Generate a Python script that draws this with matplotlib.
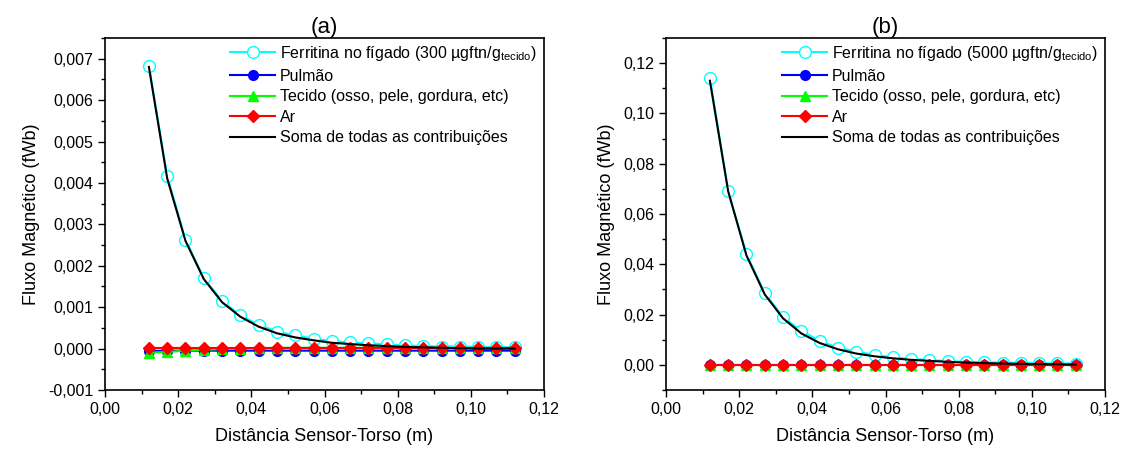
import matplotlib
matplotlib.use("Agg")
import matplotlib.pyplot as plt
from matplotlib.ticker import MultipleLocator, FuncFormatter

plt.rcParams['font.family'] = ['Liberation Sans', 'DejaVu Sans']
plt.rcParams['mathtext.fontset'] = 'custom'
plt.rcParams['mathtext.rm'] = 'Liberation Sans'
plt.rcParams['mathtext.it'] = 'Liberation Sans:italic'

# distancias sensor-torso (m)
dist = [0.012, 0.017, 0.022, 0.027, 0.032, 0.037, 0.042, 0.047, 0.052, 0.057, 0.062,
        0.067, 0.072, 0.077, 0.082, 0.087, 0.092, 0.097, 0.102, 0.107, 0.112]

# (a) 300 ugftn/g
ferr_a = [0.00683, 0.00417, 0.00263, 0.00170, 0.00115, 0.00080, 0.00058, 0.00041, 0.00032,
          0.00024, 0.00018, 0.00015, 0.00013, 0.00010, 0.00008, 0.00006, 0.00005, 0.00005,
          0.00004, 0.00004, 0.00003]
pulm_a = [-0.00006, -0.00005, -0.00005, -0.00005, -0.00005, -0.00005, -0.00005, -0.00005,
          -0.00005, -0.00005, -0.00005, -0.00005, -0.00005, -0.00005, -0.00005, -0.00005,
          -0.00005, -0.00005, -0.00005, -0.00005, -0.00005]
tec_a = [-0.00010, -0.00008, -0.00005, -0.00003, -0.00001, 0.00000, 0.00001, 0.00002, 0.00002,
         0.00002, 0.00002, 0.00002, 0.00002, 0.00002, 0.00001, 0.00001, 0.00001, 0.00001,
         0.00001, 0.00001, 0.00001]
ar_a = [0.00001] * 21
soma_a = [0.00680, 0.00411, 0.00260, 0.00168, 0.00112, 0.00077, 0.00053, 0.00037, 0.00027,
          0.00020, 0.00014, 0.00011, 0.00008, 0.00006, 0.00004, 0.00003, 0.00002, 0.00001,
          0.00000, 0.00000, 0.00000]

# (b) 5000 ugftn/g
ferr_b = [0.1140, 0.0690, 0.0440, 0.0285, 0.0190, 0.0135, 0.0096, 0.0068, 0.0053, 0.0040,
          0.0030, 0.0024, 0.0019, 0.0015, 0.0012, 0.0010, 0.0009, 0.0008, 0.0007, 0.0006,
          0.0005]
pulm_b = [0.0000] * 21
tec_b = [0.0000] * 21
ar_b = [0.0000] * 21
soma_b = [0.1130, 0.0690, 0.0435, 0.0280, 0.0185, 0.0125, 0.0087, 0.0062, 0.0045, 0.0034,
          0.0026, 0.0020, 0.0016, 0.0012, 0.0009, 0.0007, 0.0005, 0.0004, 0.0003, 0.0002,
          0.0001]

paineis = [
    ("(a)", "300", ferr_a, pulm_a, tec_a, ar_a, soma_a, (-0.001, 0.0075), 0.001, 0.0005, 3),
    ("(b)", "5000", ferr_b, pulm_b, tec_b, ar_b, soma_b, (-0.01, 0.13), 0.02, 0.01, 2),
]


def fmt_virgula(casas):
    def f(v, pos):
        txt = f"{v:.{casas}f}".replace(".", ",")
        if txt.startswith("-") and float(txt[1:].replace(",", ".")) == 0:
            txt = txt[1:]
        return txt
    return FuncFormatter(f)


fig = plt.figure(figsize=(11.33, 4.5), dpi=100)
posicoes = [[105 / 1133, 60 / 450, 439 / 1133, 352 / 450],
            [666 / 1133, 60 / 450, 439 / 1133, 352 / 450]]

for pos, (titulo, conc, ferr, pulm, tec, ar, soma, ylim, ymaj, ymin, casas) in zip(posicoes, paineis):
    ax = fig.add_axes(pos)
    ax.plot(dist, ferr, color="cyan", lw=1.5, marker="o", ms=8.5, mfc="white", mec="cyan",
            mew=1.0, label="Ferritina no fígado (" + conc + r" µgftn/g$_{\mathrm{tecido}}$)")
    ax.plot(dist, pulm, color="blue", lw=1.5, marker="o", ms=7, mfc="blue", mec="blue",
            label="Pulmão")
    ax.plot(dist, tec, color="#00ff00", lw=1.5, marker="^", ms=7, mfc="#00ff00", mec="#00ff00",
            label="Tecido (osso, pele, gordura, etc)")
    ax.plot(dist, ar, color="red", lw=1.5, marker="D", ms=6.5, mfc="red", mec="red",
            label="Ar")
    ax.plot(dist, soma, color="black", lw=1.5, label="Soma de todas as contribuições")

    ax.set_xlim(0, 0.12)
    ax.set_ylim(*ylim)
    ax.xaxis.set_major_locator(MultipleLocator(0.02))
    ax.xaxis.set_minor_locator(MultipleLocator(0.01))
    ax.yaxis.set_major_locator(MultipleLocator(ymaj))
    ax.yaxis.set_minor_locator(MultipleLocator(ymin))
    ax.xaxis.set_major_formatter(fmt_virgula(2))
    ax.yaxis.set_major_formatter(fmt_virgula(casas))
    ax.tick_params(which="major", length=5, width=1, labelsize=11.5, direction="out")
    ax.tick_params(which="minor", length=3, width=1, direction="out")
    for s in ax.spines.values():
        s.set_linewidth(1.2)

    ax.set_xlabel("Distância Sensor-Torso (m)", fontsize=13, labelpad=8)
    ax.set_ylabel("Fluxo Magnético (fWb)", fontsize=13, labelpad=6)
    ax.set_title(titulo, fontsize=16, pad=3)
    ax.legend(loc="upper right", frameon=False, fontsize=11.5, handlelength=2.8,
              handletextpad=0.3, labelspacing=0.35, borderaxespad=0.2,
              bbox_to_anchor=(1.005, 1.01))

fig.savefig("out.png", dpi=100)
